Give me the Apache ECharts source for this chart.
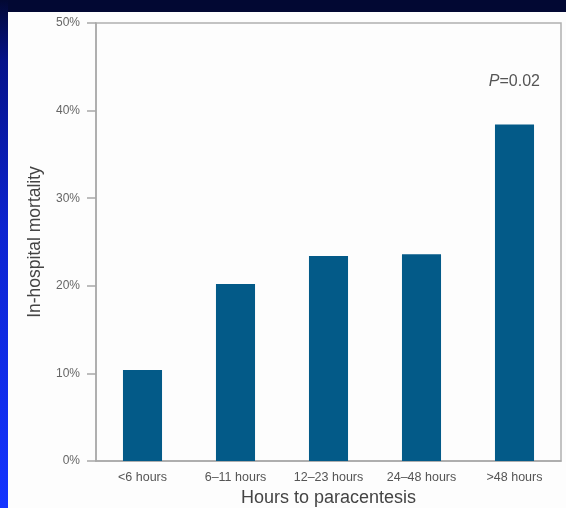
<!DOCTYPE html>
<html>
<head>
<meta charset="utf-8">
<script src="https://cdn.jsdelivr.net/npm/echarts@6/dist/echarts.min.js"></script>
<style>
  html, body { margin: 0; padding: 0; }
  body {
    width: 566px; height: 508px; overflow: hidden; position: relative;
    background: #020833;
  }
  #strip { position: absolute; left: 0; top: 0; width: 8px; height: 508px;
    background: linear-gradient(180deg, #020833 0%, #06138a 12%, #0c24d0 45%, #1434ff 100%); }
  #panel { position: absolute; left: 8px; top: 12px; width: 558px; height: 496px; background: #fdfdfd; }
  #chart { position: absolute; left: 0; top: 0; width: 566px; height: 508px; }
</style>
</head>
<body>
<div id="strip"></div>
<div id="panel"></div>
<div id="chart"></div>
<script>
// --- données --- //
const categories = ['<6 hours', '6\u201311 hours', '12\u201323 hours', '24\u201348 hours', '>48 hours'];
const mortality = [10.4, 20.2, 23.4, 23.6, 38.4];
const yTicks = [0, 10, 20, 30, 40, 50];
const pValueText = '=0.02';

const labelFont = 'Liberation Sans, Arial, sans-serif';

const chart = echarts.init(document.getElementById('chart'));

chart.setOption({
  animation: false,
  grid: {
    left: 96,
    top: 23,
    right: 5,
    bottom: 47,
    outerBoundsMode: 'none',
    show: true,
    borderColor: '#b0b0b0',
    borderWidth: 1.5
  },
  xAxis: {
    type: 'category',
    data: categories,
    name: 'Hours to paracentesis',
    nameLocation: 'middle',
    nameGap: 27,
    nameTextStyle: { fontSize: 18, color: '#444', fontFamily: labelFont },
    axisLine: { lineStyle: { color: '#a8a8a8', width: 1.5 } },
    axisTick: { show: false },
    axisLabel: { fontSize: 12.5, color: '#555', margin: 10, fontFamily: labelFont }
  },
  yAxis: {
    type: 'value',
    min: yTicks[0],
    max: yTicks[yTicks.length - 1],
    interval: 10,
    name: 'In-hospital mortality',
    nameLocation: 'middle',
    nameGap: 52,
    nameTextStyle: { fontSize: 17.5, color: '#444', fontFamily: labelFont },
    axisLine: { show: true, lineStyle: { color: '#a8a8a8', width: 1.5 } },
    axisTick: { show: true, length: 9, lineStyle: { color: '#a8a8a8', width: 1.5 } },
    axisLabel: { formatter: '{value}%', fontSize: 12, color: '#666', margin: 16, fontFamily: labelFont },
    splitLine: { show: false }
  },
  graphic: [
    {
      type: 'text',
      right: 26,
      top: 74,
      style: {
        text: '{i|P}' + pValueText,
        fill: '#555',
        font: '16px ' + labelFont,
        rich: {
          i: { fontStyle: 'italic', fontSize: 16, fill: '#555', fontFamily: labelFont }
        }
      }
    }
  ],
  series: [
    {
      type: 'bar',
      data: mortality,
      barWidth: '42%',
      itemStyle: { color: '#035a88' }
    }
  ]
});
</script>
</body>
</html>
